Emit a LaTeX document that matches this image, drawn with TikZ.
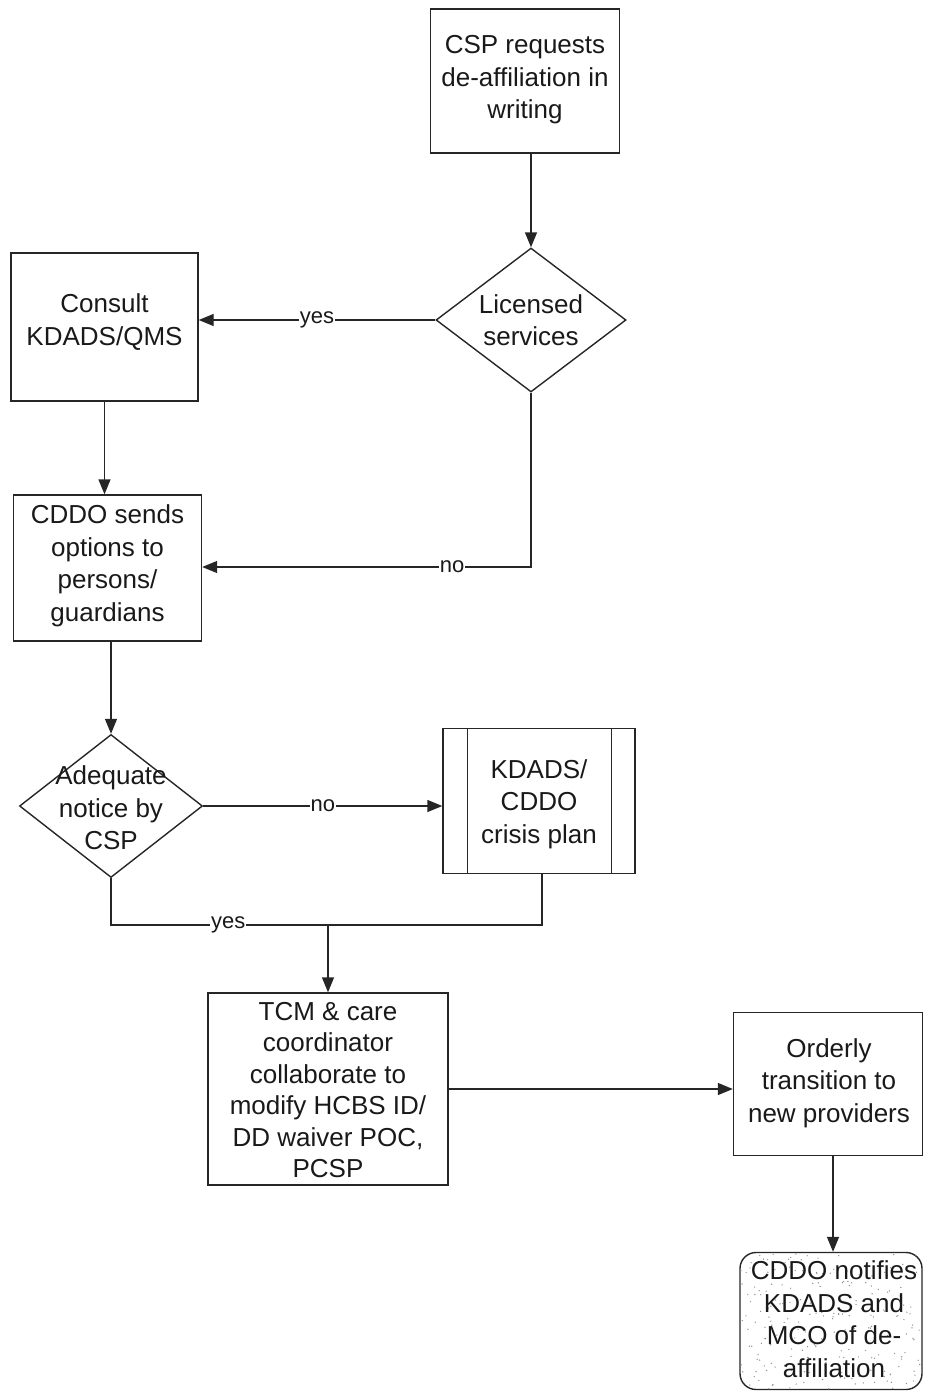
\documentclass[tikz,border=0pt]{standalone}
\usepackage{fontspec}
\setmainfont{Liberation Sans}
\usetikzlibrary{arrows.meta,shapes.geometric}

\tikzset{
  flow/.style={line width=1.4pt, draw=black!85},
  arrowline/.style={flow, -{Triangle[length=15pt,width=12pt]}},
  stepbox/.style={flow, rectangle, inner sep=0pt},
  decision/.style={flow, diamond, inner sep=0pt},
  txt/.style={align=center, inner sep=0pt, text=black!90,
    font=\fontsize{26}{32.5}\selectfont},
  branch/.style={fill=white, inner sep=1pt, text=black!90,
    font=\fontsize{22}{24}\selectfont},
}

\begin{document}
\begin{tikzpicture}[x=1pt,y=-1pt]
\path[use as bounding box] (0,0) rectangle (924,1391);
\clip (0,0) rectangle (924,1391);

% process boxes and decisions
\node[stepbox, minimum width=189pt, minimum height=144pt] (req) at (525,81) {};
\node[txt] (reqt) at (525,80) {CSP requests\\de-affiliation in\\writing};

\node[decision, minimum width=190pt, minimum height=144pt] (lic) at (531,320) {};
\node[txt] (lict) at (531,320) {Licensed\\services};

\node[stepbox, minimum width=187pt, minimum height=148pt] (consult) at (104.5,327) {};
\node[txt] (consultt) at (104.5,322) {Consult\\KDADS/QMS};

\node[stepbox, minimum width=188pt, minimum height=146pt] (opts) at (107.5,568) {};
\node[txt] (optst) at (107.5,566) {CDDO sends\\options to\\persons/\\guardians};

\node[decision, minimum width=183pt, minimum height=143pt] (notice) at (111,806) {};
\node[txt] (noticet) at (111,808) {Adequate\\notice by\\CSP};

\node[stepbox, minimum width=192pt, minimum height=145pt] (crisis) at (539,801) {};
\draw[flow] ([xshift=25pt]crisis.north west) -- ([xshift=25pt]crisis.south west);
\draw[flow] ([xshift=-24pt]crisis.north east) -- ([xshift=-24pt]crisis.south east);
\node[txt] (crisist) at (539,804) {KDADS/\\CDDO\\crisis plan};

\node[stepbox, minimum width=240pt, minimum height=192pt] (tcm) at (328,1089) {};
\node[txt, font=\fontsize{26}{31.5}\selectfont] (tcmt) at (328,1090)
  {TCM \& care\\coordinator\\collaborate to\\modify HCBS ID/\\DD waiver POC,\\PCSP};

\node[stepbox, minimum width=189pt, minimum height=143pt] (orderly) at (828,1084) {};
\node[txt] (orderlyt) at (829,1083) {Orderly\\transition to\\new providers};

% terminal step with a stippled fill
\node[flow, rectangle, rounded corners=16pt, inner sep=0pt,
      minimum width=182pt, minimum height=137pt] (notify) at (831,1321) {};
\begin{scope}
  \clip[rounded corners=16pt] (notify.south west) rectangle (notify.north east);
  \pgfmathsetseed{7}
  \foreach \i in {1,...,230}
    \fill[black!45] ({741+180*rnd},{1253+136*rnd}) circle (0.7pt);
\end{scope}
\node[txt] (notifyt) at (834,1319) {CDDO notifies\\KDADS and\\MCO of de-\\affiliation};

% connectors
\coordinate (join) at (328,925);
\coordinate (noturn) at (531,567);

\draw[arrowline] (req.south -| lic.north) -- (lic.north);
\draw[arrowline] (lic.west) -- (lic.west -| consult.east)
  node[branch, pos=0.5] (yes1) {yes};
\draw[arrowline] (lic.south) -- (noturn) -- (noturn -| opts.east)
  node[branch, pos=0.24] (no1) {no};
\draw[arrowline] (consult.south) -- (consult.south |- opts.north);
\draw[arrowline] (opts.south -| notice.north) -- (notice.north);
\draw[arrowline] (notice.east) -- (notice.east -| crisis.west)
  node[branch, pos=0.5] (no2) {no};
\draw[flow] (notice.south) |- (join)
  node[branch, pos=0.77] (yes2) {yes};
\draw[flow] ([xshift=3pt]crisis.south) |- (join);
\draw[arrowline] (join) -- (join |- tcm.north);
\draw[arrowline] (tcm.east) -- (tcm.east -| orderly.west);
\draw[arrowline] ([xshift=5pt]orderly.south) -- ([xshift=5pt]orderly.south |- notify.north);
\end{tikzpicture}
\end{document}
